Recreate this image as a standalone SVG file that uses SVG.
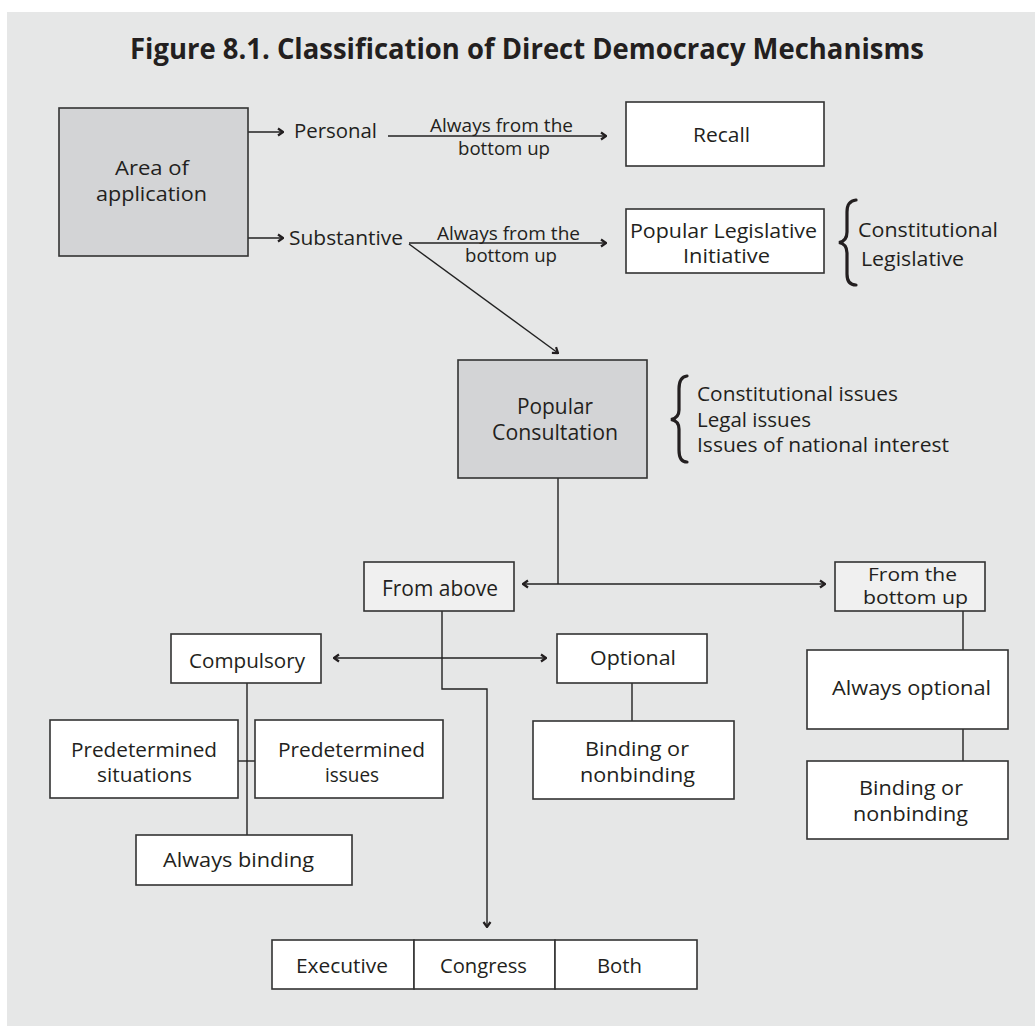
<svg xmlns="http://www.w3.org/2000/svg" width="1035" height="1026" viewBox="0 0 1035 1026">
<style>
text{font-family:"Open Sans","Liberation Sans",sans-serif;fill:#231f20;font-size:20px}
.t{font-size:29px;font-weight:bold}
.s{font-size:18px}
.c{font-size:21px}
.c2{font-size:20px}
.fb{font-size:18px}
.box{stroke:#333;stroke-width:1.6;fill:#fff}
.dk{fill:#d3d4d6}
.lt{fill:#f0f0f0}
.ln{stroke:#222;stroke-width:1.4;fill:none}
.br{stroke:#231f20;stroke-width:3.2;fill:none;stroke-linecap:round}
</style>
<defs>
<marker id="ah" viewBox="0 0 10 10" refX="9" refY="5" markerWidth="10" markerHeight="10" markerUnits="userSpaceOnUse" orient="auto">
<path d="M4,1.5 L9,5 L4,8.5" fill="none" stroke="#231f20" stroke-width="2.2"/>
</marker>
<marker id="ahs" viewBox="0 0 10 10" refX="9" refY="5" markerWidth="10" markerHeight="10" markerUnits="userSpaceOnUse" orient="auto-start-reverse">
<path d="M4,1.5 L9,5 L4,8.5" fill="none" stroke="#231f20" stroke-width="2.2"/>
</marker>
</defs>
<rect x="7" y="12" width="1028" height="1014" fill="#e6e7e7"/>
<text class="t" x="130" y="59" textLength="794" lengthAdjust="spacingAndGlyphs">Figure 8.1. Classification of Direct Democracy Mechanisms</text>

<g id="connectors">
<line class="ln" x1="248" y1="132" x2="283" y2="132" marker-end="url(#ah)"/>
<line class="ln" x1="248" y1="238" x2="283" y2="238" marker-end="url(#ah)"/>
<line class="ln" x1="388" y1="136" x2="606" y2="136" marker-end="url(#ah)"/>
<line class="ln" x1="409" y1="243" x2="606" y2="243" marker-end="url(#ah)"/>
<line class="ln" x1="409" y1="244" x2="558" y2="353" marker-end="url(#ah)"/>
<line class="ln" x1="558" y1="478" x2="558" y2="584"/>
<line class="ln" x1="523" y1="584" x2="825" y2="584" marker-start="url(#ahs)" marker-end="url(#ah)"/>
<line class="ln" x1="334" y1="658" x2="546" y2="658" marker-start="url(#ahs)" marker-end="url(#ah)"/>
<polyline class="ln" points="442,611 442,689 487,689 487,927" marker-end="url(#ah)"/>
<line class="ln" x1="247" y1="683" x2="247" y2="835"/>
<line class="ln" x1="238" y1="761" x2="255" y2="761"/>
<line class="ln" x1="632" y1="683" x2="632" y2="721"/>
<line class="ln" x1="963" y1="611" x2="963" y2="650"/>
<line class="ln" x1="963" y1="729" x2="963" y2="761"/>
<text class="s" x="430" y="132" textLength="143" lengthAdjust="spacingAndGlyphs">Always from the</text>
<text class="s" x="458" y="155" textLength="92" lengthAdjust="spacingAndGlyphs">bottom up</text>
<text class="s" x="437" y="240" textLength="143" lengthAdjust="spacingAndGlyphs">Always from the</text>
<text class="s" x="465" y="262" textLength="92" lengthAdjust="spacingAndGlyphs">bottom up</text>
</g>

<g id="area">
<rect class="box dk" x="59" y="108" width="189" height="148"/>
<text x="115" y="175" textLength="74" lengthAdjust="spacingAndGlyphs">Area of</text>
<text x="96" y="201" textLength="111" lengthAdjust="spacingAndGlyphs">application</text>
</g>
<g id="personal">
<text x="294" y="138" textLength="83" lengthAdjust="spacingAndGlyphs">Personal</text>
</g>
<g id="substantive">
<text x="289" y="245" textLength="114" lengthAdjust="spacingAndGlyphs">Substantive</text>
</g>
<g id="recall">
<rect class="box" x="626" y="102" width="198" height="64"/>
<text x="693" y="142" textLength="57" lengthAdjust="spacingAndGlyphs">Recall</text>
</g>
<g id="pli">
<rect class="box" x="626" y="209" width="198" height="64"/>
<text x="630" y="238" textLength="187" lengthAdjust="spacingAndGlyphs">Popular Legislative</text>
<text x="683" y="263" textLength="87" lengthAdjust="spacingAndGlyphs">Initiative</text>
</g>
<g id="pli-types">
<path class="br" d="M856,200 Q847,201 847,212 L847,232 Q847,241 839,242.5 Q847,244 847,253 L847,274 Q847,285 856,285"/>
<text x="858" y="237" textLength="140" lengthAdjust="spacingAndGlyphs">Constitutional</text>
<text x="861" y="266" textLength="103" lengthAdjust="spacingAndGlyphs">Legislative</text>
</g>
<g id="pc">
<rect class="box dk" x="458" y="360" width="189" height="118"/>
<text class="c" x="517" y="414" textLength="76" lengthAdjust="spacingAndGlyphs">Popular</text>
<text class="c" x="492" y="440" textLength="126" lengthAdjust="spacingAndGlyphs">Consultation</text>
</g>
<g id="pc-issues">
<path class="br" d="M687,376 Q679,377 679,389 L679,410 Q679,418 671,419.5 Q679,421 679,429 L679,450 Q679,462 687,462"/>
<text class="c2" x="697" y="401" textLength="201" lengthAdjust="spacingAndGlyphs">Constitutional issues</text>
<text class="c2" x="697" y="426.5" textLength="114" lengthAdjust="spacingAndGlyphs">Legal issues</text>
<text class="c2" x="697" y="452" textLength="252" lengthAdjust="spacingAndGlyphs">Issues of national interest</text>
</g>
<g id="from-above">
<rect class="box lt" x="364" y="562" width="150" height="49"/>
<text class="c" x="382" y="596" textLength="116" lengthAdjust="spacingAndGlyphs">From above</text>
</g>
<g id="from-bottom">
<rect class="box lt" x="835" y="562" width="150" height="49"/>
<text class="fb" x="868" y="581" textLength="89" lengthAdjust="spacingAndGlyphs">From the</text>
<text class="fb" x="863" y="604" textLength="105" lengthAdjust="spacingAndGlyphs">bottom up</text>
</g>
<g id="compulsory">
<rect class="box" x="171" y="634" width="150" height="49"/>
<text x="189" y="668" textLength="116" lengthAdjust="spacingAndGlyphs">Compulsory</text>
</g>
<g id="optional">
<rect class="box" x="557" y="634" width="150" height="49"/>
<text x="590" y="665" textLength="86" lengthAdjust="spacingAndGlyphs">Optional</text>
</g>
<g id="pred-situations">
<rect class="box" x="50" y="720" width="188" height="78"/>
<text x="71" y="757" textLength="146" lengthAdjust="spacingAndGlyphs">Predetermined</text>
<text x="97" y="782" textLength="95" lengthAdjust="spacingAndGlyphs">situations</text>
</g>
<g id="pred-issues">
<rect class="box" x="255" y="720" width="188" height="78"/>
<text x="278" y="757" textLength="147" lengthAdjust="spacingAndGlyphs">Predetermined</text>
<text x="325" y="782" textLength="54" lengthAdjust="spacingAndGlyphs">issues</text>
</g>
<g id="always-binding">
<rect class="box" x="136" y="835" width="216" height="50"/>
<text x="163" y="867" textLength="151" lengthAdjust="spacingAndGlyphs">Always binding</text>
</g>
<g id="opt-binding">
<rect class="box" x="533" y="721" width="201" height="78"/>
<text x="585" y="756" textLength="104" lengthAdjust="spacingAndGlyphs">Binding or</text>
<text x="580" y="782" textLength="115" lengthAdjust="spacingAndGlyphs">nonbinding</text>
</g>
<g id="always-optional">
<rect class="box" x="807" y="650" width="201" height="79"/>
<text x="832" y="695" textLength="159" lengthAdjust="spacingAndGlyphs">Always optional</text>
</g>
<g id="bu-binding">
<rect class="box" x="807" y="761" width="201" height="78"/>
<text x="859" y="795" textLength="104" lengthAdjust="spacingAndGlyphs">Binding or</text>
<text x="853" y="821" textLength="115" lengthAdjust="spacingAndGlyphs">nonbinding</text>
</g>
<g id="executive">
<rect class="box" x="272" y="940" width="142" height="49"/>
<text x="296" y="973" textLength="92" lengthAdjust="spacingAndGlyphs">Executive</text>
</g>
<g id="congress">
<rect class="box" x="414" y="940" width="141" height="49"/>
<text x="440" y="973" textLength="87" lengthAdjust="spacingAndGlyphs">Congress</text>
</g>
<g id="both">
<rect class="box" x="555" y="940" width="142" height="49"/>
<text x="597" y="973" textLength="45" lengthAdjust="spacingAndGlyphs">Both</text>
</g>
</svg>
